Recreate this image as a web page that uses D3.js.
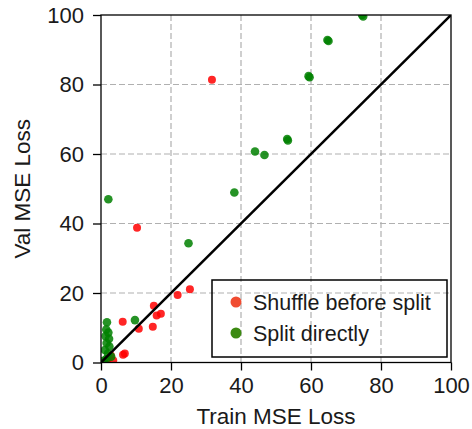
<!DOCTYPE html>
<html>
<head>
<meta charset="utf-8">
<script src="https://cdn.jsdelivr.net/npm/d3@7"></script>
<style>
  body { margin: 0; background: #fff; }
  text { font-family: "Liberation Sans", Arial, sans-serif; fill: #1a1a1a; }
</style>
</head>
<body>
<div id="chart"></div>
<script>
// values
var ticks = [0, 20, 40, 60, 80, 100];
var seriesNames = ["Shuffle before split", "Split directly"];

// red: shuffle before split
var shuffleTrain = [31.7, 10.3, 25.4, 21.9, 15.1, 15.9, 17.1, 14.8, 10.8, 6.2, 6.3, 6.8, 2.0, 3.5, 1.0, 2.8];
var shuffleVal   = [81.4, 38.8, 21.1, 19.4, 16.3, 13.5, 14.0, 10.3, 9.7, 11.7, 2.2, 2.6, 1.1, 0.6, 0.3, 2.0];

// green: split directly
var splitTrain = [74.6, 74.9, 64.7, 65.0, 59.3, 59.6, 53.2, 53.4, 44.0, 46.7, 38.1, 2.1, 25.0, 9.7,
                  1.7, 1.5, 2.1, 1.3, 2.3, 1.6, 2.4, 1.1, 2.0, 2.9, 1.5, 0.7];
var splitVal   = [100.0, 99.6, 92.8, 92.5, 82.4, 82.1, 64.3, 63.9, 60.7, 59.7, 48.9, 47.0, 34.3, 12.2,
                  11.6, 9.5, 8.6, 7.6, 6.8, 5.6, 4.6, 3.6, 2.6, 1.7, 1.0, 0.5];

var W = 472, H = 429;
var margin = {top: 15, right: 21, bottom: 66.5, left: 101};
var w = W - margin.left - margin.right;
var h = H - margin.top - margin.bottom;

var svg = d3.select("#chart").append("svg")
    .attr("width", W)
    .attr("height", H);

var g = svg.append("g")
    .attr("transform", "translate(" + margin.left + "," + margin.top + ")");

var x = d3.scaleLinear().domain([0, 100]).range([0, w]);
var y = d3.scaleLinear().domain([0, 100]).range([h, 0]);

g.append("clipPath").attr("id", "clip")
  .append("rect").attr("width", w).attr("height", h);

//dashed grid
g.selectAll(".gx").data(ticks.slice(1, -1)).enter().append("line")
    .attr("x1", function(d){ return x(d); })
    .attr("x2", function(d){ return x(d); })
    .attr("y1", 0).attr("y2", h)
    .attr("stroke", "#b0b0b0").attr("stroke-width", 1.2)
    .attr("stroke-dasharray", "6,3");
g.selectAll(".gy").data(ticks.slice(1, -1)).enter().append("line")
    .attr("y1", function(d){ return y(d); })
    .attr("y2", function(d){ return y(d); })
    .attr("x1", 0).attr("x2", w)
    .attr("stroke", "#b0b0b0").attr("stroke-width", 1.2)
    .attr("stroke-dasharray", "6,3");

var plot = g.append("g").attr("clip-path", "url(#clip)");

var red = shuffleTrain.map(function(d, i){ return {x: d, y: shuffleVal[i]}; });
var green = splitTrain.map(function(d, i){ return {x: d, y: splitVal[i]}; });

plot.selectAll(".red").data(red).enter().append("circle")
    .attr("cx", function(d){ return x(d.x); })
    .attr("cy", function(d){ return y(d.y); })
    .attr("r", 4)
    .attr("fill", "#ff0000")
    .attr("fill-opacity", 0.85);

plot.selectAll(".green").data(green).enter().append("circle")
    .attr("cx", function(d){ return x(d.x); })
    .attr("cy", function(d){ return y(d.y); })
    .attr("r", 4.3)
    .attr("fill", "#008000")
    .attr("fill-opacity", 0.85);

// y = x reference line
plot.append("line")
    .attr("x1", x(0)).attr("y1", y(0))
    .attr("x2", x(100)).attr("y2", y(100))
    .attr("stroke", "#000").attr("stroke-width", 2.5);

// axes
var xAxis = d3.axisBottom(x).tickValues(ticks).tickSize(8).tickPadding(7);
var yAxis = d3.axisLeft(y).tickValues(ticks).tickSize(8).tickPadding(9);

var gx = g.append("g").attr("transform", "translate(0," + h + ")").call(xAxis);
var gy = g.append("g").call(yAxis);
[gx, gy].forEach(function(a){
    a.select(".domain").remove();
    a.selectAll("line").attr("stroke", "#000").attr("stroke-width", 1.3);
    a.selectAll("text").style("font-size", "22px").attr("fill", "#1a1a1a")
        .style("font-family", "'Liberation Sans', Arial, sans-serif");
});

// box spines
g.append("rect")
    .attr("width", w).attr("height", h)
    .attr("fill", "none").attr("stroke", "#000").attr("stroke-width", 1.3);

// axis labels
svg.append("text")
    .attr("x", margin.left + w / 2).attr("y", 424)
    .attr("text-anchor", "middle")
    .style("font-size", "22.5px")
    .text("Train MSE Loss");
svg.append("text")
    .attr("transform", "translate(30," + (margin.top + h / 2) + ") rotate(-90)")
    .attr("text-anchor", "middle")
    .style("font-size", "22.5px")
    .text("Val MSE Loss");

// legend
var legend = svg.append("g");
legend.append("rect")
    .attr("x", 212).attr("y", 280).attr("width", 235).attr("height", 77)
    .attr("fill", "none").attr("stroke", "#000").attr("stroke-width", 1.5);
var legendColors = ["#f04c31", "#3c8a12"];
seriesNames.forEach(function(name, i){
    legend.append("circle")
        .attr("cx", 236).attr("cy", 302 + i * 31).attr("r", 5.5)
        .attr("fill", legendColors[i]);
    legend.append("text")
        .attr("x", 253).attr("y", 310 + i * 31)
        .style("font-size", "21.5px")
        .text(name);
});
</script>
</body>
</html>
